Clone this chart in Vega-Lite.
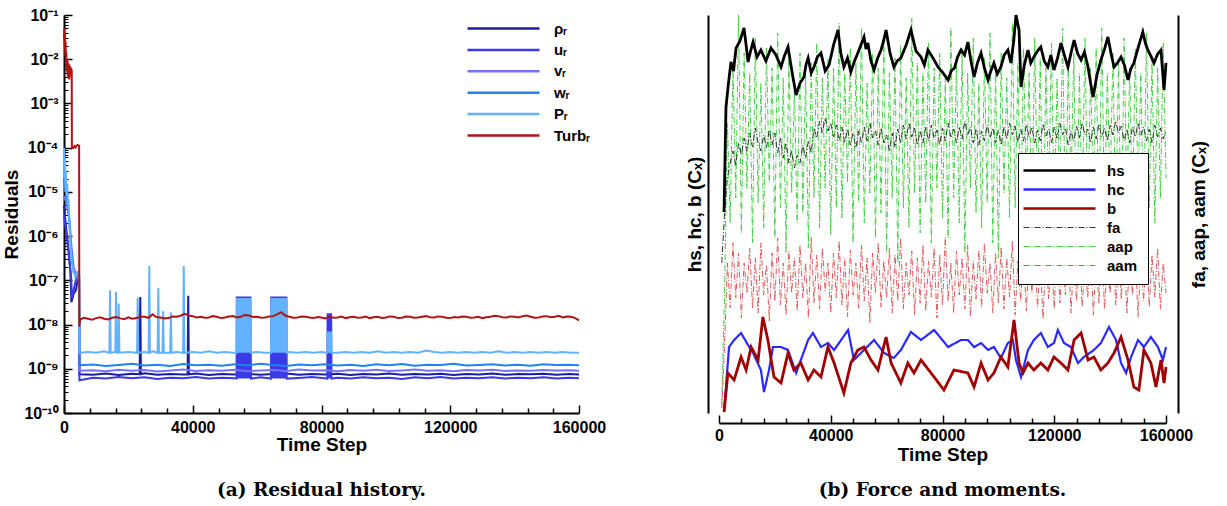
{
"$schema":"https://vega.github.io/schema/vega-lite/v6.json",
"padding":{"left":2,"top":7,"right":5,"bottom":5},
"background":"white",
"config":{"view":{"stroke":null},"font":"Liberation Sans",
"axis":{"grid":false,"domainColor":"#000","domainWidth":2,"tickColor":"#000","tickWidth":1.5,"labelColor":"#000","labelFont":"Liberation Sans","labelFontSize":16,"labelFontWeight":"bold","titleColor":"#000","titleFont":"Liberation Sans","titleFontSize":19,"titleFontWeight":"bold"},
"legend":{"labelFont":"Liberation Sans","labelFontSize":15,"labelFontWeight":"bold","labelColor":"#000"}},
"datasets":{
"rho":[{"t":0,"v":5e-6},{"t":500,"v":2e-6},{"t":1000,"v":9e-7},{"t":1500,"v":4e-7},{"t":2000,"v":1.5e-7},{"t":2300,"v":3.2e-8},{"t":3000,"v":5e-8},{"t":3700,"v":6e-8},{"t":4300,"v":1.1e-7},{"t":4700,"v":1.3e-7},{"t":4800,"v":7.5e-10},{"t":9000,"v":7.3e-10},{"t":13000,"v":7.8e-10},{"t":17000,"v":7.2e-10},{"t":21000,"v":7.7e-10},{"t":23500,"v":7.5e-10},{"t":23700,"v":4.2e-8},{"t":23900,"v":7.5e-10},{"t":25000,"v":7.9e-10},{"t":29000,"v":7.3e-10},{"t":33000,"v":7.6e-10},{"t":37000,"v":7.4e-10},{"t":38400,"v":7.5e-10},{"t":38600,"v":4.5e-8},{"t":38800,"v":7.5e-10},{"t":41000,"v":7.8e-10},{"t":45000,"v":7.2e-10},{"t":49000,"v":7.6e-10},{"t":53000,"v":7.4e-10},{"t":57000,"v":7.7e-10},{"t":61000,"v":7.3e-10},{"t":65000,"v":7.6e-10},{"t":69000,"v":7.8e-10},{"t":73000,"v":7.3e-10},{"t":77000,"v":7.6e-10},{"t":81000,"v":7.4e-10},{"t":85000,"v":7.7e-10},{"t":89000,"v":7.2e-10},{"t":93000,"v":7.6e-10},{"t":97000,"v":7.4e-10},{"t":101000,"v":7.8e-10},{"t":105000,"v":7.3e-10},{"t":109000,"v":7.6e-10},{"t":113000,"v":7.4e-10},{"t":117000,"v":7.7e-10},{"t":121000,"v":7.2e-10},{"t":125000,"v":7.6e-10},{"t":129000,"v":7.4e-10},{"t":133000,"v":7.8e-10},{"t":137000,"v":7.3e-10},{"t":141000,"v":7.6e-10},{"t":145000,"v":7.5e-10},{"t":149000,"v":7.7e-10},{"t":153000,"v":7.3e-10},{"t":157000,"v":7.6e-10},{"t":160000,"v":7.4e-10}],
"u":[{"t":0,"v":3e-6},{"t":800,"v":1e-6},{"t":1500,"v":4e-7},{"t":2200,"v":1.2e-7},{"t":2500,"v":4e-8},{"t":3200,"v":7e-8},{"t":4000,"v":1.3e-7},{"t":4600,"v":1.6e-7},{"t":4800,"v":5.5e-10},{"t":9000,"v":6.3e-10},{"t":13000,"v":6e-10},{"t":17000,"v":6.5e-10},{"t":21000,"v":6.1e-10},{"t":25000,"v":6.4e-10},{"t":29000,"v":5.9e-10},{"t":33000,"v":6.3e-10},{"t":37000,"v":6.1e-10},{"t":41000,"v":6.5e-10},{"t":45000,"v":6e-10},{"t":49000,"v":6.3e-10},{"t":53000,"v":6.1e-10},
{"t":53600,"v":6e-10},{"t":53700,"v":4.3e-8},{"t":54000,"v":6e-10},{"t":54300,"v":4.3e-8},{"t":54600,"v":6e-10},{"t":54900,"v":4.3e-8},{"t":55200,"v":6e-10},{"t":55500,"v":4.3e-8},{"t":55800,"v":6e-10},{"t":56100,"v":4.3e-8},{"t":56400,"v":6e-10},{"t":56700,"v":4.3e-8},{"t":57000,"v":6e-10},{"t":57300,"v":4.3e-8},{"t":57600,"v":6e-10},{"t":57900,"v":4.3e-8},{"t":58100,"v":6e-10},{"t":61000,"v":6.4e-10},
{"t":64300,"v":6e-10},{"t":64400,"v":4.3e-8},{"t":64700,"v":6e-10},{"t":65000,"v":4.3e-8},{"t":65300,"v":6e-10},{"t":65600,"v":4.3e-8},{"t":65900,"v":6e-10},{"t":66200,"v":4.3e-8},{"t":66500,"v":6e-10},{"t":66800,"v":4.3e-8},{"t":67100,"v":6e-10},{"t":67400,"v":4.3e-8},{"t":67700,"v":6e-10},{"t":68000,"v":4.3e-8},{"t":68300,"v":6e-10},{"t":68600,"v":4.3e-8},{"t":68900,"v":6e-10},{"t":69100,"v":4.3e-8},{"t":69200,"v":6e-10},
{"t":73000,"v":6.2e-10},{"t":77000,"v":6.5e-10},{"t":81000,"v":6.1e-10},
{"t":81800,"v":6e-10},{"t":81900,"v":1.8e-8},{"t":82100,"v":6e-10},{"t":82300,"v":1.8e-8},{"t":82500,"v":6e-10},{"t":82700,"v":1.8e-8},{"t":82900,"v":6e-10},{"t":83000,"v":1.8e-8},{"t":83100,"v":6e-10},
{"t":85000,"v":6.3e-10},{"t":89000,"v":6e-10},{"t":93000,"v":6.4e-10},{"t":97000,"v":6.1e-10},{"t":101000,"v":6.3e-10},{"t":105000,"v":5.9e-10},{"t":109000,"v":6.4e-10},{"t":113000,"v":6.1e-10},{"t":117000,"v":6.5e-10},{"t":121000,"v":6e-10},{"t":125000,"v":6.3e-10},{"t":129000,"v":6.1e-10},{"t":133000,"v":6.4e-10},{"t":137000,"v":6e-10},{"t":141000,"v":6.3e-10},{"t":145000,"v":6.1e-10},{"t":149000,"v":6.4e-10},{"t":153000,"v":6e-10},{"t":157000,"v":6.3e-10},{"t":160000,"v":6.1e-10}],
"v":[{"t":0,"v":8e-6},{"t":1000,"v":5e-6},{"t":1800,"v":2e-6},{"t":2300,"v":6e-7},{"t":3000,"v":2e-7},{"t":4000,"v":1.2e-7},{"t":4700,"v":1e-7},{"t":4800,"v":9e-10},{"t":9000,"v":9.3e-10},{"t":13000,"v":8.8e-10},{"t":17000,"v":9.5e-10},{"t":21000,"v":9e-10},{"t":25000,"v":9.4e-10},{"t":29000,"v":8.7e-10},{"t":33000,"v":9.2e-10},{"t":37000,"v":9.6e-10},{"t":41000,"v":8.9e-10},{"t":45000,"v":9.3e-10},{"t":49000,"v":9e-10},{"t":53000,"v":9.5e-10},{"t":57000,"v":8.8e-10},{"t":61000,"v":9.2e-10},{"t":65000,"v":9.4e-10},{"t":69000,"v":8.9e-10},{"t":73000,"v":9.6e-10},{"t":77000,"v":9.1e-10},{"t":81000,"v":9.3e-10},{"t":85000,"v":8.8e-10},{"t":89000,"v":9.4e-10},{"t":93000,"v":9e-10},{"t":97000,"v":9.5e-10},{"t":101000,"v":8.9e-10},{"t":105000,"v":9.2e-10},{"t":109000,"v":9.6e-10},{"t":113000,"v":9e-10},{"t":117000,"v":9.3e-10},{"t":121000,"v":8.8e-10},{"t":125000,"v":9.4e-10},{"t":129000,"v":9.1e-10},{"t":133000,"v":9.5e-10},{"t":137000,"v":8.9e-10},{"t":141000,"v":9.2e-10},{"t":145000,"v":9e-10},{"t":149000,"v":9.4e-10},{"t":153000,"v":9.1e-10},{"t":157000,"v":9.3e-10},{"t":160000,"v":9e-10}],
"w":[{"t":0,"v":2e-5},{"t":800,"v":8e-6},{"t":1500,"v":3e-6},{"t":2200,"v":5e-7},{"t":3000,"v":1.5e-7},{"t":4000,"v":1.4e-7},{"t":4700,"v":1.2e-7},{"t":4800,"v":1.2e-9},{"t":9000,"v":1.25e-9},{"t":13000,"v":1.15e-9},{"t":17000,"v":1.22e-9},{"t":21000,"v":1.3e-9},{"t":25000,"v":1.18e-9},{"t":29000,"v":1.24e-9},{"t":33000,"v":1.16e-9},{"t":37000,"v":1.28e-9},{"t":41000,"v":1.2e-9},{"t":45000,"v":1.23e-9},{"t":49000,"v":1.17e-9},{"t":53000,"v":1.26e-9},{"t":57000,"v":1.19e-9},{"t":61000,"v":1.3e-9},{"t":65000,"v":1.21e-9},{"t":69000,"v":1.16e-9},{"t":73000,"v":1.25e-9},{"t":77000,"v":1.2e-9},{"t":81000,"v":1.27e-9},{"t":85000,"v":1.18e-9},{"t":89000,"v":1.23e-9},{"t":93000,"v":1.15e-9},{"t":97000,"v":1.26e-9},{"t":101000,"v":1.2e-9},{"t":105000,"v":1.29e-9},{"t":109000,"v":1.17e-9},{"t":113000,"v":1.24e-9},{"t":117000,"v":1.21e-9},{"t":121000,"v":1.3e-9},{"t":125000,"v":1.18e-9},{"t":129000,"v":1.22e-9},{"t":133000,"v":1.26e-9},{"t":137000,"v":1.19e-9},{"t":141000,"v":1.24e-9},{"t":145000,"v":1.17e-9},{"t":149000,"v":1.27e-9},{"t":153000,"v":1.21e-9},{"t":157000,"v":1.23e-9},{"t":160000,"v":1.2e-9}],
"P":[{"t":0,"v":1e-4},{"t":150,"v":2e-5},{"t":300,"v":6e-5},{"t":450,"v":1e-5},{"t":600,"v":3e-5},{"t":800,"v":8e-6},{"t":1000,"v":1.5e-5},{"t":1200,"v":5e-6},{"t":1400,"v":7e-6},{"t":1600,"v":3e-6},{"t":1800,"v":1.5e-6},{"t":2100,"v":5e-7},{"t":2500,"v":2.5e-7},{"t":3000,"v":1.6e-7},{"t":3500,"v":1.2e-7},{"t":4000,"v":1.5e-7},{"t":4600,"v":1.4e-7},{"t":4800,"v":2.3e-9},{"t":7500,"v":2.4e-9},{"t":10000,"v":2.3e-9},{"t":12500,"v":2.5e-9},{"t":14100,"v":2.3e-9},{"t":14300,"v":6e-8},{"t":14500,"v":2.3e-9},{"t":15950,"v":2.4e-9},{"t":16150,"v":5.5e-8},{"t":16350,"v":2.3e-9},{"t":16800,"v":2.3e-9},{"t":17000,"v":3e-8},{"t":17200,"v":2.3e-9},{"t":20000,"v":2.4e-9},{"t":22700,"v":2.3e-9},{"t":22900,"v":4e-8},{"t":23100,"v":2.3e-9},{"t":25000,"v":2.4e-9},{"t":26300,"v":2.3e-9},{"t":26500,"v":2.1e-7},{"t":26700,"v":2.3e-9},{"t":27500,"v":2.5e-9},{"t":29100,"v":2.3e-9},{"t":29300,"v":6.8e-8},{"t":29500,"v":2.3e-9},{"t":30600,"v":2.3e-9},{"t":30800,"v":2e-8},{"t":31000,"v":2.3e-9},{"t":33000,"v":2.3e-9},{"t":33200,"v":1.9e-8},{"t":33400,"v":2.3e-9},{"t":35000,"v":2.4e-9},{"t":37000,"v":2.3e-9},{"t":37200,"v":2.1e-7},{"t":37400,"v":2.3e-9},{"t":40000,"v":2.4e-9},{"t":42500,"v":2.3e-9},{"t":45000,"v":2.5e-9},{"t":47500,"v":2.3e-9},{"t":50000,"v":2.4e-9},{"t":52500,"v":2.3e-9},
{"t":53600,"v":2.3e-9},{"t":53700,"v":4e-8},{"t":54000,"v":2.3e-9},{"t":54300,"v":4e-8},{"t":54600,"v":2.3e-9},{"t":54900,"v":4e-8},{"t":55200,"v":2.3e-9},{"t":55500,"v":4e-8},{"t":55800,"v":2.3e-9},{"t":56100,"v":4e-8},{"t":56400,"v":2.3e-9},{"t":56700,"v":4e-8},{"t":57000,"v":2.3e-9},{"t":57300,"v":4e-8},{"t":57600,"v":2.3e-9},{"t":57900,"v":4e-8},{"t":58100,"v":2.3e-9},{"t":60000,"v":2.4e-9},{"t":62500,"v":2.3e-9},
{"t":64300,"v":2.3e-9},{"t":64400,"v":4e-8},{"t":64700,"v":2.3e-9},{"t":65000,"v":4e-8},{"t":65300,"v":2.3e-9},{"t":65600,"v":4e-8},{"t":65900,"v":2.3e-9},{"t":66200,"v":4e-8},{"t":66500,"v":2.3e-9},{"t":66800,"v":4e-8},{"t":67100,"v":2.3e-9},{"t":67400,"v":4e-8},{"t":67700,"v":2.3e-9},{"t":68000,"v":4e-8},{"t":68300,"v":2.3e-9},{"t":68600,"v":4e-8},{"t":68900,"v":2.3e-9},{"t":69100,"v":4e-8},{"t":69200,"v":2.3e-9},
{"t":70000,"v":2.4e-9},{"t":72500,"v":2.3e-9},{"t":75000,"v":2.4e-9},{"t":77500,"v":2.3e-9},{"t":80000,"v":2.4e-9},
{"t":81800,"v":2.3e-9},{"t":81900,"v":7e-9},{"t":82100,"v":2.3e-9},{"t":82300,"v":7e-9},{"t":82500,"v":2.3e-9},{"t":82700,"v":7e-9},{"t":82900,"v":2.3e-9},{"t":83000,"v":7e-9},{"t":83100,"v":2.3e-9},
{"t":85000,"v":2.3e-9},{"t":87500,"v":2.4e-9},{"t":90000,"v":2.3e-9},{"t":92500,"v":2.4e-9},{"t":95000,"v":2.3e-9},{"t":97500,"v":2.5e-9},{"t":100000,"v":2.3e-9},{"t":102500,"v":2.4e-9},{"t":105000,"v":2.3e-9},{"t":107500,"v":2.4e-9},{"t":110000,"v":2.3e-9},{"t":112500,"v":2.6e-9},{"t":115000,"v":2.4e-9},{"t":117500,"v":2.3e-9},{"t":120000,"v":2.4e-9},{"t":122500,"v":2.3e-9},{"t":125000,"v":2.4e-9},{"t":127500,"v":2.3e-9},{"t":130000,"v":2.4e-9},{"t":132500,"v":2.3e-9},{"t":135000,"v":2.5e-9},{"t":137500,"v":2.3e-9},{"t":140000,"v":2.4e-9},{"t":142500,"v":2.3e-9},{"t":145000,"v":2.4e-9},{"t":147500,"v":2.3e-9},{"t":150000,"v":2.4e-9},{"t":152500,"v":2.3e-9},{"t":155000,"v":2.4e-9},{"t":157500,"v":2.3e-9},{"t":160000,"v":2.3e-9}],
"turb":[{"t":0,"v":3e-2},{"t":100,"v":5e-2},{"t":200,"v":2e-2},{"t":300,"v":4e-2},{"t":400,"v":1.2e-2},{"t":500,"v":2.5e-2},{"t":600,"v":8e-3},{"t":700,"v":1.5e-2},{"t":800,"v":6e-3},{"t":900,"v":1e-2},{"t":1000,"v":5e-3},{"t":1100,"v":9e-3},{"t":1200,"v":4e-3},{"t":1300,"v":7e-3},{"t":1400,"v":5e-3},{"t":1500,"v":8e-3},{"t":1600,"v":3.5e-3},{"t":1700,"v":6e-3},{"t":1800,"v":4e-3},{"t":1900,"v":7e-3},{"t":2000,"v":5e-3},{"t":2100,"v":6.5e-3},{"t":2200,"v":4.5e-3},{"t":2300,"v":6e-3},{"t":2400,"v":5.5e-3},{"t":2450,"v":1e-4},{"t":2700,"v":1.05e-4},{"t":3000,"v":1e-4},{"t":3300,"v":1.08e-4},{"t":3600,"v":1.02e-4},{"t":3900,"v":1.1e-4},{"t":4200,"v":1.15e-4},{"t":4500,"v":1.12e-4},{"t":4700,"v":1.1e-4},{"t":4750,"v":9e-9},{"t":5000,"v":1.3e-8},{"t":6200,"v":1.42e-8},{"t":7500,"v":1.35e-8},{"t":8700,"v":1.28e-8},{"t":10000,"v":1.4e-8},{"t":11200,"v":1.46e-8},{"t":12500,"v":1.35e-8},{"t":13700,"v":1.3e-8},{"t":15000,"v":1.42e-8},{"t":16200,"v":1.48e-8},{"t":17500,"v":1.38e-8},{"t":18700,"v":1.32e-8},{"t":20000,"v":1.45e-8},{"t":21200,"v":1.36e-8},{"t":22500,"v":1.4e-8},{"t":23700,"v":1.5e-8},{"t":25000,"v":1.5e-8},{"t":26200,"v":1.42e-8},{"t":27500,"v":1.7e-8},{"t":28700,"v":1.48e-8},{"t":30000,"v":1.45e-8},{"t":31200,"v":1.38e-8},{"t":32500,"v":1.4e-8},{"t":33700,"v":1.52e-8},{"t":35000,"v":1.5e-8},{"t":36200,"v":1.58e-8},{"t":37500,"v":1.75e-8},{"t":38700,"v":1.6e-8},{"t":40000,"v":1.55e-8},{"t":41200,"v":1.45e-8},{"t":42500,"v":1.5e-8},{"t":43700,"v":1.42e-8},{"t":45000,"v":1.45e-8},{"t":46200,"v":1.55e-8},{"t":47500,"v":1.5e-8},{"t":48700,"v":1.4e-8},{"t":50000,"v":1.45e-8},{"t":51200,"v":1.52e-8},{"t":52500,"v":1.55e-8},{"t":53700,"v":1.45e-8},{"t":55000,"v":1.5e-8},{"t":56200,"v":1.65e-8},{"t":57500,"v":1.6e-8},{"t":58700,"v":1.48e-8},{"t":60000,"v":1.5e-8},{"t":61200,"v":1.42e-8},{"t":62500,"v":1.45e-8},{"t":63700,"v":1.52e-8},{"t":65000,"v":1.55e-8},{"t":66200,"v":1.7e-8},{"t":67500,"v":1.9e-8},{"t":68700,"v":1.6e-8},{"t":70000,"v":1.5e-8},{"t":71200,"v":1.42e-8},{"t":72500,"v":1.45e-8},{"t":73700,"v":1.52e-8},{"t":75000,"v":1.5e-8},{"t":76200,"v":1.44e-8},{"t":77500,"v":1.4e-8},{"t":78700,"v":1.48e-8},{"t":80000,"v":1.45e-8},{"t":81200,"v":1.38e-8},{"t":82500,"v":1.5e-8},{"t":83700,"v":1.42e-8},{"t":85000,"v":1.45e-8},{"t":86200,"v":1.52e-8},{"t":87500,"v":1.4e-8},{"t":88700,"v":1.46e-8},{"t":90000,"v":1.5e-8},{"t":91200,"v":1.42e-8},{"t":92500,"v":1.45e-8},{"t":93700,"v":1.52e-8},{"t":95000,"v":1.4e-8},{"t":96200,"v":1.46e-8},{"t":97500,"v":1.5e-8},{"t":98700,"v":1.41e-8},{"t":100000,"v":1.45e-8},{"t":101200,"v":1.53e-8},{"t":102500,"v":1.5e-8},{"t":103700,"v":1.4e-8},{"t":105000,"v":1.42e-8},{"t":106200,"v":1.52e-8},{"t":107500,"v":1.5e-8},{"t":108700,"v":1.43e-8},{"t":110000,"v":1.45e-8},{"t":111200,"v":1.5e-8},{"t":112500,"v":1.55e-8},{"t":113700,"v":1.46e-8},{"t":115000,"v":1.45e-8},{"t":116200,"v":1.53e-8},{"t":117500,"v":1.5e-8},{"t":118700,"v":1.42e-8},{"t":120000,"v":1.4e-8},{"t":121200,"v":1.48e-8},{"t":122500,"v":1.45e-8},{"t":123700,"v":1.52e-8},{"t":125000,"v":1.5e-8},{"t":126200,"v":1.43e-8},{"t":127500,"v":1.45e-8},{"t":128700,"v":1.5e-8},{"t":130000,"v":1.4e-8},{"t":131200,"v":1.47e-8},{"t":132500,"v":1.5e-8},{"t":133700,"v":1.58e-8},{"t":135000,"v":1.55e-8},{"t":136200,"v":1.47e-8},{"t":137500,"v":1.45e-8},{"t":138700,"v":1.53e-8},{"t":140000,"v":1.5e-8},{"t":141200,"v":1.44e-8},{"t":142500,"v":1.55e-8},{"t":143700,"v":1.6e-8},{"t":145000,"v":1.5e-8},{"t":146200,"v":1.43e-8},{"t":147500,"v":1.45e-8},{"t":148700,"v":1.53e-8},{"t":150000,"v":1.55e-8},{"t":151200,"v":1.47e-8},{"t":152500,"v":1.5e-8},{"t":153700,"v":1.58e-8},{"t":155000,"v":1.45e-8},{"t":156200,"v":1.52e-8},{"t":157500,"v":1.5e-8},{"t":158700,"v":1.42e-8},{"t":160000,"v":1.25e-8}],
"hs":[{"t":1800,"v":201},{"t":2500,"v":306},{"t":3400,"v":330},{"t":4300,"v":351},{"t":5200,"v":342},{"t":6100,"v":365},{"t":7500,"v":372},{"t":8950,"v":385},{"t":9700,"v":368},{"t":10400,"v":351},{"t":11300,"v":362},{"t":12200,"v":371},{"t":13600,"v":356},{"t":15000,"v":363},{"t":16800,"v":352},{"t":18600,"v":365},{"t":20400,"v":358},{"t":22200,"v":346},{"t":23400,"v":357},{"t":24700,"v":366},{"t":26200,"v":340},{"t":27600,"v":318},{"t":29000,"v":330},{"t":30400,"v":336},{"t":31200,"v":349},{"t":31900,"v":355},{"t":33000,"v":340},{"t":34000,"v":346},{"t":35200,"v":356},{"t":36500,"v":360},{"t":38000,"v":342},{"t":39400,"v":348},{"t":41000,"v":368},{"t":42600,"v":383},{"t":43600,"v":360},{"t":44700,"v":346},{"t":46000,"v":355},{"t":47200,"v":341},{"t":48500,"v":352},{"t":49700,"v":360},{"t":50800,"v":368},{"t":51900,"v":376},{"t":52600,"v":364},{"t":53300,"v":370},{"t":54400,"v":352},{"t":55500,"v":343},{"t":56800,"v":355},{"t":58000,"v":363},{"t":58900,"v":372},{"t":59800,"v":383},{"t":61200,"v":360},{"t":62600,"v":346},{"t":63800,"v":352},{"t":65100,"v":355},{"t":67000,"v":368},{"t":68700,"v":383},{"t":70500,"v":362},{"t":72300,"v":356},{"t":73500,"v":348},{"t":74800,"v":363},{"t":76600,"v":355},{"t":78400,"v":346},{"t":80200,"v":340},{"t":82000,"v":333},{"t":83100,"v":342},{"t":84300,"v":345},{"t":85400,"v":356},{"t":86600,"v":363},{"t":87900,"v":358},{"t":89100,"v":371},{"t":90200,"v":352},{"t":91300,"v":336},{"t":92500,"v":350},{"t":93800,"v":360},{"t":95000,"v":345},{"t":96300,"v":333},{"t":97300,"v":342},{"t":98400,"v":350},{"t":99600,"v":339},{"t":100900,"v":346},{"t":102100,"v":358},{"t":103400,"v":363},{"t":104500,"v":350},{"t":105500,"v":372},{"t":106300,"v":398},{"t":107400,"v":383},{"t":108100,"v":326},{"t":109300,"v":348},{"t":110600,"v":363},{"t":111600,"v":350},{"t":112700,"v":356},{"t":114000,"v":362},{"t":115200,"v":366},{"t":116400,"v":352},{"t":117700,"v":346},{"t":118800,"v":358},{"t":119900,"v":343},{"t":121200,"v":355},{"t":122400,"v":370},{"t":123600,"v":358},{"t":124900,"v":346},{"t":126000,"v":360},{"t":127100,"v":373},{"t":128300,"v":360},{"t":129600,"v":353},{"t":130800,"v":361},{"t":132100,"v":346},{"t":133000,"v":330},{"t":133900,"v":316},{"t":135300,"v":338},{"t":136700,"v":353},{"t":138000,"v":364},{"t":139200,"v":376},{"t":140300,"v":360},{"t":141400,"v":346},{"t":142600,"v":350},{"t":143900,"v":356},{"t":145100,"v":348},{"t":146400,"v":333},{"t":147400,"v":344},{"t":148500,"v":350},{"t":150100,"v":366},{"t":151700,"v":381},{"t":152600,"v":370},{"t":153500,"v":363},{"t":154600,"v":357},{"t":155700,"v":350},{"t":157000,"v":359},{"t":158200,"v":363},{"t":159300,"v":323},{"t":160000,"v":350}],
"hc":[{"t":1800,"v":1},{"t":3600,"v":66},{"t":5400,"v":73},{"t":7900,"v":80},{"t":10400,"v":68},{"t":12200,"v":60},{"t":15000,"v":43},{"t":16100,"v":21},{"t":17900,"v":43},{"t":19300,"v":66},{"t":22200,"v":66},{"t":24700,"v":63},{"t":27600,"v":40},{"t":31900,"v":73},{"t":33600,"v":80},{"t":36500,"v":66},{"t":39000,"v":70},{"t":41200,"v":63},{"t":43700,"v":73},{"t":46200,"v":83},{"t":48300,"v":53},{"t":51900,"v":63},{"t":55500,"v":73},{"t":59100,"v":60},{"t":62600,"v":55},{"t":65100,"v":63},{"t":68700,"v":81},{"t":72300,"v":73},{"t":77000,"v":83},{"t":82000,"v":66},{"t":86600,"v":73},{"t":89100,"v":73},{"t":91300,"v":66},{"t":93800,"v":70},{"t":96300,"v":63},{"t":98400,"v":66},{"t":100900,"v":55},{"t":103400,"v":70},{"t":105200,"v":73},{"t":106300,"v":53},{"t":108100,"v":36},{"t":110600,"v":63},{"t":112700,"v":73},{"t":115200,"v":80},{"t":117700,"v":66},{"t":119900,"v":70},{"t":121300,"v":83},{"t":123500,"v":70},{"t":126000,"v":66},{"t":128500,"v":50},{"t":130600,"v":56},{"t":134200,"v":63},{"t":136700,"v":70},{"t":139600,"v":86},{"t":142100,"v":73},{"t":143900,"v":50},{"t":145700,"v":40},{"t":147500,"v":56},{"t":150000,"v":73},{"t":152100,"v":66},{"t":154600,"v":76},{"t":157100,"v":66},{"t":158900,"v":53},{"t":160000,"v":66}],
"b":[{"t":1800,"v":1},{"t":3200,"v":40},{"t":5400,"v":33},{"t":7900,"v":56},{"t":9700,"v":43},{"t":11500,"v":66},{"t":14000,"v":53},{"t":15700,"v":96},{"t":17500,"v":73},{"t":19700,"v":36},{"t":22200,"v":30},{"t":24700,"v":60},{"t":26800,"v":43},{"t":29300,"v":50},{"t":31900,"v":33},{"t":34000,"v":43},{"t":36500,"v":36},{"t":39000,"v":66},{"t":41200,"v":50},{"t":44700,"v":20},{"t":47200,"v":50},{"t":49700,"v":63},{"t":51900,"v":66},{"t":54400,"v":53},{"t":56900,"v":43},{"t":59800,"v":76},{"t":61600,"v":50},{"t":65100,"v":30},{"t":67600,"v":50},{"t":69800,"v":40},{"t":72300,"v":53},{"t":77000,"v":36},{"t":80500,"v":23},{"t":84100,"v":43},{"t":89100,"v":40},{"t":91300,"v":26},{"t":93800,"v":50},{"t":96300,"v":33},{"t":98400,"v":40},{"t":100900,"v":56},{"t":103400,"v":46},{"t":105600,"v":93},{"t":107400,"v":50},{"t":108800,"v":40},{"t":110600,"v":50},{"t":112700,"v":43},{"t":115200,"v":50},{"t":117700,"v":43},{"t":119900,"v":56},{"t":122400,"v":50},{"t":124900,"v":43},{"t":127100,"v":73},{"t":129600,"v":80},{"t":132100,"v":53},{"t":134200,"v":56},{"t":136700,"v":43},{"t":139200,"v":50},{"t":141400,"v":60},{"t":143900,"v":76},{"t":146400,"v":53},{"t":148500,"v":26},{"t":150300,"v":23},{"t":152100,"v":63},{"t":154600,"v":50},{"t":156400,"v":26},{"t":158200,"v":53},{"t":159300,"v":30},{"t":160000,"v":46}],
"noise":[{"t":1000,"f":150,"g":10,"m":5},{"t":2000,"f":200,"g":120,"m":70},{"t":3000,"f":235,"g":290,"m":150},{"t":4000,"f":250,"g":190,"m":105},{"t":5000,"f":262,"g":350,"m":170},{"t":6000,"f":248,"g":215,"m":115},{"t":7000,"f":270,"g":398,"m":160},{"t":8000,"f":258,"g":180,"m":95},{"t":9000,"f":275,"g":360,"m":150},{"t":10000,"f":262,"g":225,"m":120},
{"t":11000,"f":280,"g":340,"m":165},{"t":12000,"f":266,"g":170,"m":105},{"t":13000,"f":285,"g":375,"m":155},{"t":14000,"f":270,"g":210,"m":100},{"t":15000,"f":262,"g":330,"m":170},{"t":16000,"f":278,"g":185,"m":118},{"t":17000,"f":265,"g":365,"m":148},{"t":18000,"f":283,"g":230,"m":92},{"t":19000,"f":268,"g":345,"m":160},{"t":20000,"f":280,"g":175,"m":112},
{"t":21000,"f":260,"g":380,"m":175},{"t":22000,"f":275,"g":205,"m":108},{"t":23000,"f":255,"g":335,"m":150},{"t":24000,"f":270,"g":160,"m":98},{"t":25000,"f":250,"g":355,"m":162},{"t":26000,"f":262,"g":220,"m":120},{"t":27000,"f":245,"g":325,"m":155},{"t":28000,"f":258,"g":190,"m":102},{"t":29000,"f":250,"g":360,"m":168},{"t":30000,"f":268,"g":200,"m":115},
{"t":31000,"f":255,"g":340,"m":150},{"t":32000,"f":272,"g":165,"m":95},{"t":33000,"f":260,"g":350,"m":176},{"t":34000,"f":285,"g":215,"m":110},{"t":35000,"f":275,"g":370,"m":158},{"t":36000,"f":292,"g":185,"m":104},{"t":37000,"f":280,"g":335,"m":165},{"t":38000,"f":295,"g":225,"m":122},{"t":39000,"f":282,"g":355,"m":150},{"t":40000,"f":290,"g":178,"m":100},
{"t":41000,"f":276,"g":345,"m":160},{"t":42000,"f":288,"g":205,"m":115},{"t":43000,"f":272,"g":390,"m":172},{"t":44000,"f":286,"g":195,"m":108},{"t":45000,"f":270,"g":340,"m":155},{"t":46000,"f":284,"g":230,"m":96},{"t":47000,"f":268,"g":365,"m":163},{"t":48000,"f":280,"g":170,"m":118},{"t":49000,"f":265,"g":350,"m":150},{"t":50000,"f":282,"g":210,"m":105},
{"t":51000,"f":270,"g":385,"m":168},{"t":52000,"f":286,"g":190,"m":112},{"t":53000,"f":272,"g":330,"m":155},{"t":54000,"f":290,"g":220,"m":90},{"t":55000,"f":275,"g":360,"m":160},{"t":56000,"f":282,"g":175,"m":120},{"t":57000,"f":268,"g":345,"m":170},{"t":58000,"f":285,"g":200,"m":106},{"t":59000,"f":270,"g":375,"m":152},{"t":60000,"f":278,"g":160,"m":115},
{"t":61000,"f":262,"g":340,"m":165},{"t":62000,"f":280,"g":215,"m":100},{"t":63000,"f":266,"g":355,"m":158},{"t":64000,"f":284,"g":150,"m":112},{"t":65000,"f":270,"g":368,"m":175},{"t":66000,"f":288,"g":205,"m":104},{"t":67000,"f":274,"g":335,"m":150},{"t":68000,"f":290,"g":185,"m":118},{"t":69000,"f":276,"g":395,"m":162},{"t":70000,"f":285,"g":220,"m":98},
{"t":71000,"f":268,"g":350,"m":155},{"t":72000,"f":282,"g":180,"m":110},{"t":73000,"f":270,"g":340,"m":168},{"t":74000,"f":286,"g":210,"m":102},{"t":75000,"f":272,"g":370,"m":152},{"t":76000,"f":288,"g":170,"m":116},{"t":77000,"f":275,"g":345,"m":165},{"t":78000,"f":283,"g":225,"m":95},{"t":79000,"f":268,"g":360,"m":158},{"t":80000,"f":285,"g":195,"m":108},
{"t":81000,"f":272,"g":335,"m":176},{"t":82000,"f":290,"g":175,"m":112},{"t":83000,"f":276,"g":385,"m":150},{"t":84000,"f":284,"g":215,"m":100},{"t":85000,"f":270,"g":350,"m":162},{"t":86000,"f":286,"g":190,"m":118},{"t":87000,"f":274,"g":365,"m":155},{"t":88000,"f":292,"g":160,"m":104},{"t":89000,"f":278,"g":340,"m":168},{"t":90000,"f":286,"g":225,"m":96},
{"t":91000,"f":270,"g":375,"m":152},{"t":92000,"f":284,"g":200,"m":114},{"t":93000,"f":268,"g":330,"m":163},{"t":94000,"f":282,"g":185,"m":106},{"t":95000,"f":272,"g":355,"m":170},{"t":96000,"f":288,"g":210,"m":120},{"t":97000,"f":275,"g":380,"m":150},{"t":98000,"f":285,"g":170,"m":100},{"t":99000,"f":270,"g":345,"m":160},{"t":100000,"f":283,"g":155,"m":110},
{"t":101000,"f":268,"g":360,"m":166},{"t":102000,"f":286,"g":220,"m":104},{"t":103000,"f":274,"g":335,"m":155},{"t":104000,"f":290,"g":195,"m":116},{"t":105000,"f":278,"g":390,"m":172},{"t":106000,"f":287,"g":205,"m":98},{"t":107000,"f":270,"g":350,"m":152},{"t":108000,"f":284,"g":175,"m":112},{"t":109000,"f":272,"g":365,"m":164},{"t":110000,"f":288,"g":230,"m":102},
{"t":111000,"f":276,"g":340,"m":158},{"t":112000,"f":286,"g":185,"m":120},{"t":113000,"f":270,"g":375,"m":168},{"t":114000,"f":283,"g":210,"m":106},{"t":115000,"f":272,"g":355,"m":150},{"t":116000,"f":289,"g":165,"m":94},{"t":117000,"f":277,"g":345,"m":162},{"t":118000,"f":284,"g":220,"m":114},{"t":119000,"f":270,"g":370,"m":155},{"t":120000,"f":286,"g":190,"m":104},
{"t":121000,"f":274,"g":335,"m":170},{"t":122000,"f":290,"g":215,"m":110},{"t":123000,"f":278,"g":385,"m":152},{"t":124000,"f":285,"g":180,"m":118},{"t":125000,"f":268,"g":350,"m":165},{"t":126000,"f":282,"g":225,"m":100},{"t":127000,"f":272,"g":360,"m":158},{"t":128000,"f":287,"g":170,"m":112},{"t":129000,"f":275,"g":340,"m":175},{"t":130000,"f":290,"g":205,"m":106},
{"t":131000,"f":278,"g":375,"m":150},{"t":132000,"f":284,"g":190,"m":116},{"t":133000,"f":270,"g":345,"m":163},{"t":134000,"f":286,"g":215,"m":98},{"t":135000,"f":274,"g":365,"m":155},{"t":136000,"f":289,"g":175,"m":110},{"t":137000,"f":276,"g":385,"m":168},{"t":138000,"f":285,"g":200,"m":104},{"t":139000,"f":272,"g":340,"m":152},{"t":140000,"f":288,"g":220,"m":120},
{"t":141000,"f":278,"g":360,"m":172},{"t":142000,"f":292,"g":185,"m":108},{"t":143000,"f":280,"g":350,"m":150},{"t":144000,"f":287,"g":165,"m":114},{"t":145000,"f":272,"g":375,"m":165},{"t":146000,"f":284,"g":210,"m":100},{"t":147000,"f":270,"g":345,"m":157},{"t":148000,"f":286,"g":195,"m":118},{"t":149000,"f":276,"g":365,"m":163},{"t":150000,"f":290,"g":225,"m":96},
{"t":151000,"f":278,"g":340,"m":152},{"t":152000,"f":286,"g":180,"m":112},{"t":153000,"f":272,"g":380,"m":170},{"t":154000,"f":284,"g":205,"m":106},{"t":155000,"f":270,"g":355,"m":158},{"t":156000,"f":288,"g":190,"m":116},{"t":157000,"f":276,"g":345,"m":165},{"t":158000,"f":285,"g":215,"m":104},{"t":159000,"f":274,"g":370,"m":150},{"t":160000,"f":282,"g":235,"m":120}]
},
"hconcat":[
{"width":515,"height":398,
"title":{"text":"(a) Residual history.","orient":"bottom","anchor":"middle","font":"DejaVu Serif","fontSize":18.5,"fontWeight":"bold","color":"#000","offset":27},
"layer":[
{"data":{"name":"rho"},"mark":{"type":"line","strokeWidth":2},
"encoding":{"x":{"field":"t","type":"quantitative","scale":{"domain":[0,160000],"nice":false,"zero":false},
"axis":{"orient":"bottom","values":[8000,16000,24000,32000,48000,56000,64000,72000,88000,96000,104000,112000,128000,136000,144000,152000],"labels":false,"domain":false,"tickSize":-5,"title":null}},
"y":{"field":"v","type":"quantitative","scale":{"type":"log","domain":[1e-10,0.1],"nice":false},
"axis":{"orient":"left","values":[2e-10,3e-10,4e-10,5e-10,6e-10,7e-10,8e-10,9e-10,2e-9,3e-9,4e-9,5e-9,6e-9,7e-9,8e-9,9e-9,2e-8,3e-8,4e-8,5e-8,6e-8,7e-8,8e-8,9e-8,2e-7,3e-7,4e-7,5e-7,6e-7,7e-7,8e-7,9e-7,2e-6,3e-6,4e-6,5e-6,6e-6,7e-6,8e-6,9e-6,2e-5,3e-5,4e-5,5e-5,6e-5,7e-5,8e-5,9e-5,2e-4,3e-4,4e-4,5e-4,6e-4,7e-4,8e-4,9e-4,2e-3,3e-3,4e-3,5e-3,6e-3,7e-3,8e-3,9e-3,2e-2,3e-2,4e-2,5e-2,6e-2,7e-2,8e-2,9e-2],"labels":false,"domain":false,"tickSize":-4,"tickWidth":1,"title":null}},
"color":{"datum":"ρᵣ","type":"nominal","scale":{"domain":["ρᵣ","uᵣ","vᵣ","wᵣ","Pᵣ","Turbᵣ"],"range":["#1c1c9e","#3a3ae6","#7474f6","#1f84f0","#62b2ff","#b01414"]},
"legend":{"orient":"none","legendX":402,"legendY":4,"title":null,"padding":0,"symbolType":"M-4.5,0H4.5","symbolSize":256,"symbolStrokeWidth":2.5,"symbolOffset":28,"labelOffset":41,"labelFontSize":15,"rowPadding":3.4}}}},
{"data":{"name":"u"},"mark":{"type":"line","strokeWidth":2},
"encoding":{"x":{"field":"t","type":"quantitative","axis":null},"y":{"field":"v","type":"quantitative","axis":null},"color":{"datum":"uᵣ","type":"nominal"}}},
{"data":{"name":"v"},"mark":{"type":"line","strokeWidth":2},
"encoding":{"x":{"field":"t","type":"quantitative","axis":null},"y":{"field":"v","type":"quantitative","axis":null},"color":{"datum":"vᵣ","type":"nominal"}}},
{"data":{"name":"w"},"mark":{"type":"line","strokeWidth":2},
"encoding":{"x":{"field":"t","type":"quantitative","axis":null},"y":{"field":"v","type":"quantitative","axis":null},"color":{"datum":"wᵣ","type":"nominal"}}},
{"data":{"name":"P"},"mark":{"type":"line","strokeWidth":2},
"encoding":{"x":{"field":"t","type":"quantitative","axis":null},"y":{"field":"v","type":"quantitative","axis":null},"color":{"datum":"Pᵣ","type":"nominal"}}},
{"data":{"name":"turb"},"mark":{"type":"line","strokeWidth":2},
"encoding":{"x":{"field":"t","type":"quantitative",
"axis":{"orient":"bottom","values":[0,40000,80000,120000,160000],"format":"d","tickSize":-8,"labelPadding":14,"labelFlush":false,"title":"Time Step","titlePadding":0}},
"y":{"field":"v","type":"quantitative",
"axis":{"orient":"left","values":[1e-10,1e-9,1e-8,1e-7,1e-6,1e-5,1e-4,1e-3,1e-2,1e-1],"labelExpr":"'10' + ['⁰','⁻¹','⁻²','⁻³','⁻⁴','⁻⁵','⁻⁶','⁻⁷','⁻⁸','⁻⁹','⁻¹⁰'][round(-log(datum.value)/LN10)]","tickSize":-8,"labelPadding":14,"title":"Residuals","titlePadding":2}},
"color":{"datum":"Turbᵣ","type":"nominal"}}}
],
"resolve":{"axis":{"x":"independent","y":"independent"}}
},
{"width":447,"height":398,
"title":{"text":"(b) Force and moments.","orient":"bottom","anchor":"middle","font":"DejaVu Serif","fontSize":18.5,"fontWeight":"bold","color":"#000","offset":17},
"layer":[
{"data":{"name":"noise"},"mark":{"type":"line","strokeWidth":1},
"encoding":{"x":{"field":"t","type":"quantitative","scale":{"domain":[0,160000],"nice":false,"zero":false},"axis":null},
"y":{"field":"g","type":"quantitative","scale":{"domain":[0,398],"nice":false,"zero":false},"axis":null},
"color":{"datum":"aap","type":"nominal"},"strokeDash":{"datum":"aap","type":"nominal"}}},
{"data":{"name":"noise"},"mark":{"type":"line","strokeWidth":1},
"encoding":{"x":{"field":"t","type":"quantitative","axis":null},"y":{"field":"m","type":"quantitative","axis":null},
"color":{"datum":"aam","type":"nominal"},"strokeDash":{"datum":"aam","type":"nominal"}}},
{"data":{"name":"noise"},"mark":{"type":"line","strokeWidth":1},
"encoding":{"x":{"field":"t","type":"quantitative","axis":null},
"y":{"field":"f","type":"quantitative","axis":{"orient":"right","offset":12,"labels":false,"ticks":false,"title":"fa, aap, aam (Cₓ)","titleAngle":270,"titlePadding":30}},
"color":{"datum":"fa","type":"nominal"},"strokeDash":{"datum":"fa","type":"nominal"}}},
{"data":{"name":"hc"},"mark":{"type":"line","strokeWidth":2.2},
"encoding":{"x":{"field":"t","type":"quantitative","axis":{"orient":"bottom","offset":10,"values":[8000,16000,24000,32000,48000,56000,64000,72000,88000,96000,104000,112000,128000,136000,144000,152000],"labels":false,"domain":false,"tickSize":-5,"title":null}},
"y":{"field":"v","type":"quantitative","axis":null},
"color":{"datum":"hc","type":"nominal"},"strokeDash":{"datum":"hc","type":"nominal"}}},
{"data":{"name":"b"},"mark":{"type":"line","strokeWidth":2.8},
"encoding":{"x":{"field":"t","type":"quantitative","axis":null},"y":{"field":"v","type":"quantitative","axis":null},
"color":{"datum":"b","type":"nominal"},"strokeDash":{"datum":"b","type":"nominal"}}},
{"data":{"name":"hs"},"mark":{"type":"line","strokeWidth":2.8},
"encoding":{"x":{"field":"t","type":"quantitative","axis":{"orient":"bottom","offset":10,"values":[0,40000,80000,120000,160000],"format":"d","tickSize":-8,"labelPadding":12,"labelFlush":false,"title":"Time Step","titlePadding":2}},
"y":{"field":"v","type":"quantitative","axis":{"orient":"left","offset":11,"labels":false,"ticks":false,"title":"hs, hc, b (Cₓ)","titlePadding":4}},
"color":{"datum":"hs","type":"nominal","scale":{"domain":["hs","hc","b","fa","aap","aam"],"range":["#000000","#2a2aff","#a00000","#333333","#3fcf3f","#e05a5a"]},
"legend":{"orient":"none","legendX":299,"legendY":138,"title":null,"padding":10,"fillColor":"white","strokeColor":"black","symbolType":"M-4.5,0H4.5","symbolSize":256,"symbolStrokeWidth":2.5,"symbolOffset":24,"labelOffset":40,"labelFontSize":15,"rowPadding":3,
"encode":{"symbols":{"update":{"strokeWidth":{"signal":"indexof(['hs','hc','b'], datum.value) >= 0 ? 2.5 : 1.2"}}}}}},
"strokeDash":{"datum":"hs","type":"nominal","scale":{"domain":["hs","hc","b","fa","aap","aam"],"range":[[1,0],[1,0],[1,0],[6,2,1,2],[6,2,1,2],[6,2,1,2]]},
"legend":{"orient":"none","legendX":299,"legendY":138,"title":null,"padding":10,"fillColor":"white","strokeColor":"black","symbolType":"M-4.5,0H4.5","symbolSize":256,"symbolStrokeWidth":2.5,"symbolOffset":24,"labelOffset":40,"labelFontSize":15,"rowPadding":3,
"encode":{"symbols":{"update":{"strokeWidth":{"signal":"indexof(['hs','hc','b'], datum.value) >= 0 ? 2.5 : 1.2"}}}}}}}}
],
"resolve":{"axis":{"x":"independent","y":"independent"}}
}
],
"spacing":140,
"bounds":"flush",
"resolve":{"scale":{"color":"independent","strokeDash":"independent"},"legend":{"color":"independent","strokeDash":"independent"}}
}
